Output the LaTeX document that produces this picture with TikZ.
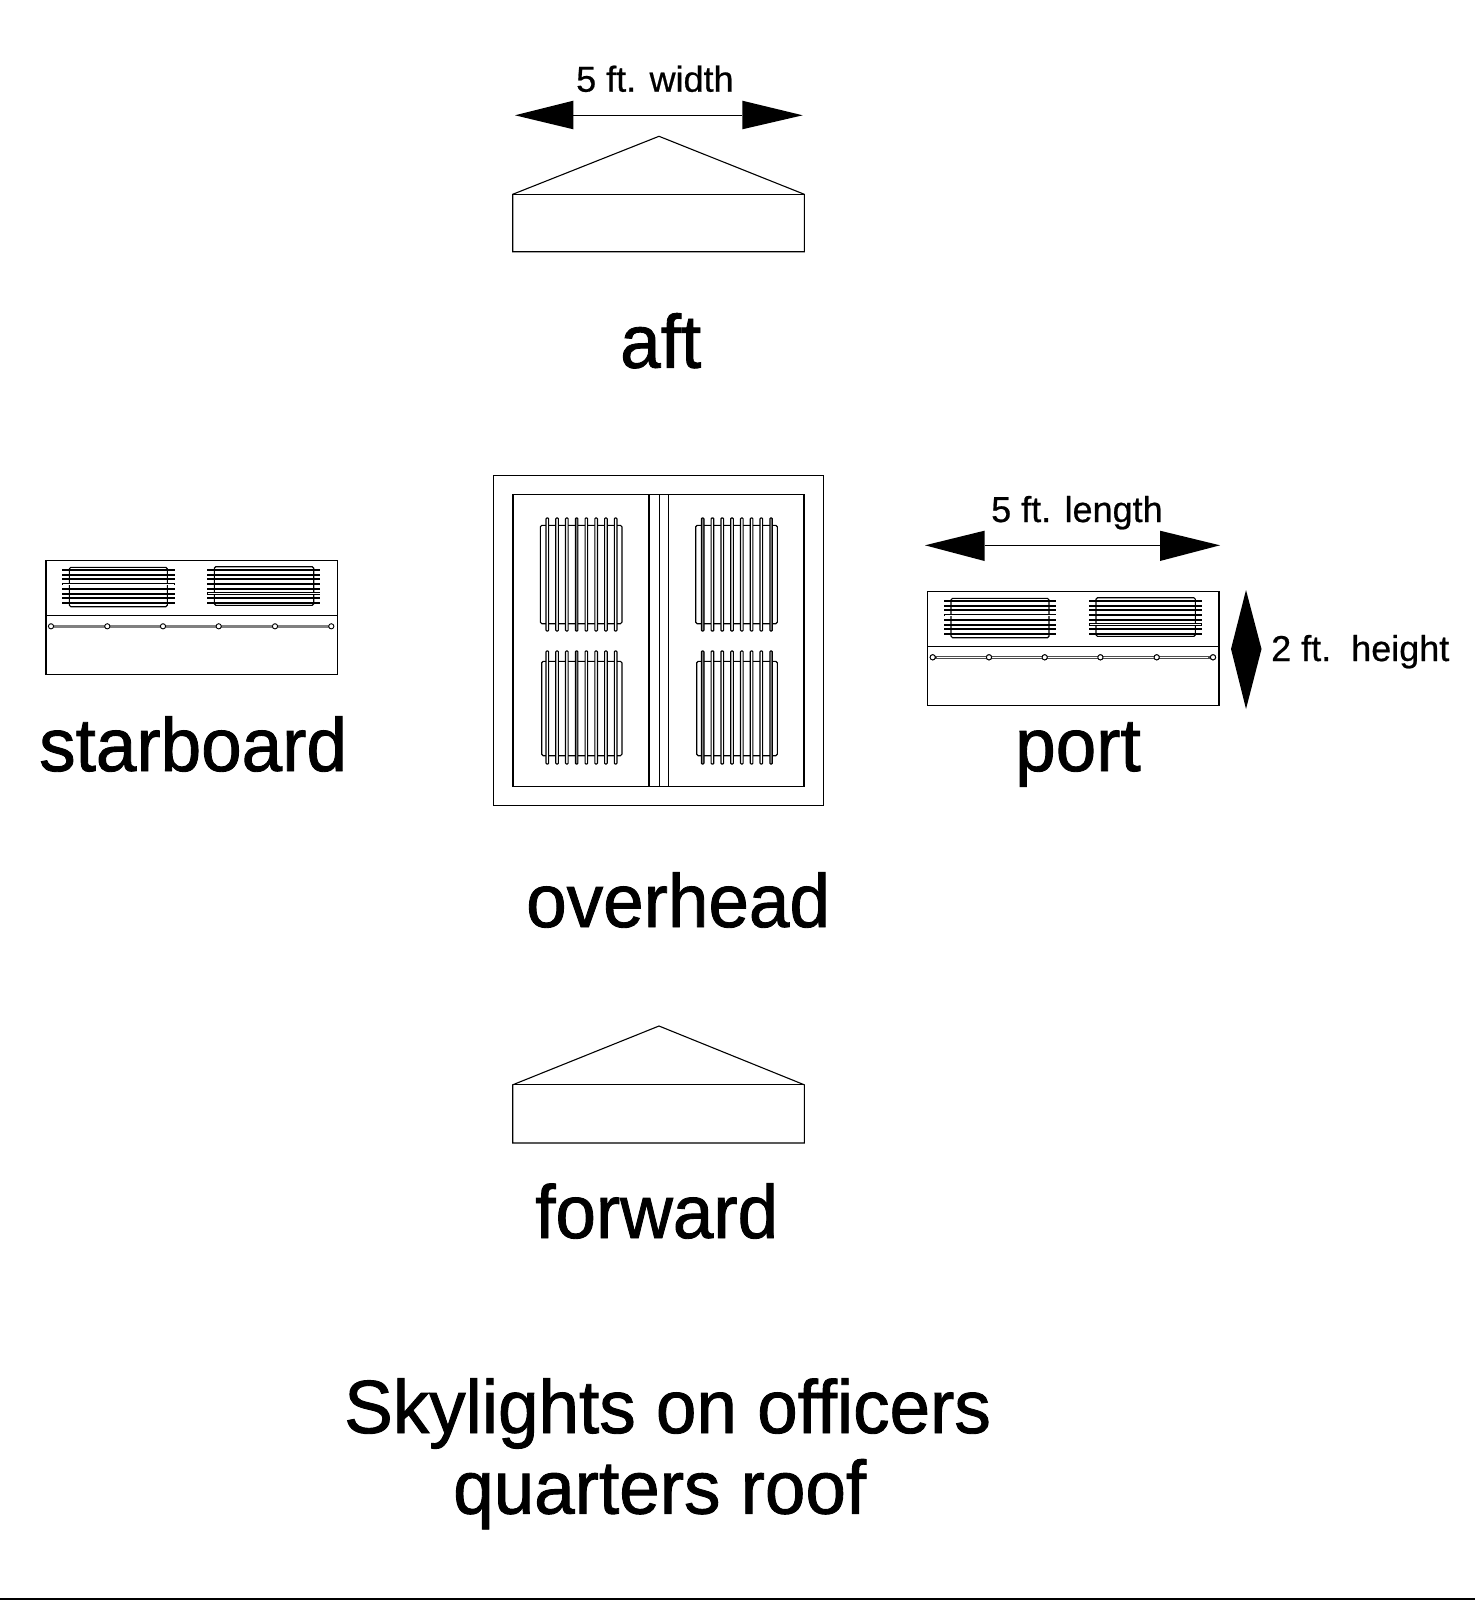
\documentclass[tikz,border=0pt]{standalone}
\usepackage{fontspec}
\setmainfont{Liberation Sans}
\newfontfamily\bigface[FakeBold=1.2]{Liberation Sans}
\newfontfamily\smallface[FakeBold=0.6]{Liberation Sans}
\newcommand{\bigtxt}{\bigface\fontsize{72.5}{72.5}\selectfont}
\newcommand{\smalltxt}{\smallface\fontsize{36}{36}\selectfont}
% one top-view window: x-left, x-right, y-top, y-bottom, first bar x, bar top y, bar bottom y
\newcommand{\skywin}[8]{%
  \draw[ln,rounded corners=1.5pt] (#1,#3) rectangle (#2,#4);
  \foreach \n/\bc in {#8}{%
    \pgfmathsetmacro{\bx}{#5+9.77*\n}
    \draw[ln,fill=\bc,rounded corners=0.8pt] (\bx-1.3,#6) rectangle (\bx+1.3,#7);
  }}
% one side-view window: rect x1 x2 y1 y2, slat x1 x2, first slat y, hollow slat index
\newcommand{\sidewin}[8]{%
  \draw[ln,rounded corners=1.5pt] (#1,#3) rectangle (#2,#4);
  \foreach \n in {0,...,7}{%
    \pgfmathsetmacro{\sy}{#7+4.7*\n}
    \draw[line width=2pt] (#5,\sy) -- (#6,\sy);
  }
  \pgfmathsetmacro{\sy}{#7+4.7*#8}
  \draw[line width=2.4pt] (#5,\sy) -- (#6,\sy);
  \draw[line width=0.8pt,white] (#5+0.8,\sy) -- (#6-0.8,\sy);
}
% side view frame
\newcommand{\sideview}[3]{%
  \begin{scope}[shift={(#1,#2)}]
    \draw[ln] (46,560.3) rectangle (337.3,674.3);
    \draw[ln] (46,615.3) -- (337.3,615.3);
    \draw[line width=2.6pt,#3] (51,626.3) -- (331.3,626.3);
    \foreach \cx in {51,107.3,163,218.7,275,331.3}
      \draw[line width=0.9pt,fill=white] (\cx,626.3) circle (2.6);
    \sidewin{69.3}{167.3}{567.3}{606.7}{62.3}{174.7}{570}{3}
    \sidewin{214.3}{313.7}{566.7}{605.3}{207.3}{320.3}{570}{5}
  \end{scope}}
\tikzset{
  ln/.style={line width=1.1pt,black,line join=miter},
  big/.style={anchor=base west,inner sep=0pt,font=\bigtxt,yscale=1.04,xscale=1.005},
  small/.style={anchor=base west,inner sep=0pt,font=\smalltxt},
  dim/.style={line width=1.1pt},
  tip/.style={fill=black,draw=none}
}
\begin{document}
\begin{tikzpicture}[x=1pt,y=-1pt]
\useasboundingbox (0,0) rectangle (1475,1600);
\fill[white] (0,0) rectangle (1475,1600);

% aft
\draw[ln] (512.7,194.3) -- (659,136.3) -- (804.3,194.3) -- (804.3,251.7) -- (512.7,251.7) -- cycle;
\draw[ln] (512.7,194.3) -- (804.3,194.3);
\coordinate (awl) at (573.3,115.3);
\coordinate (awr) at (742.3,115.3);
\draw[dim] (awl) -- (awr);
\fill[tip] (515,115.3) -- (573.3,100.7) -- (573.3,129.3) -- cycle;
\fill[tip] (802.7,115.3) -- (742.3,100.7) -- (742.3,129.3) -- cycle;
\node[small] (widthlabel) at (576,91.7) {5 ft. width};
\node[big] (aftlabel) at (620,367.7) {aft};

% overhead
\draw[ln] (493.7,475.3) rectangle (823.7,805.3);
\draw[ln] (513,494.7) rectangle (804,786.5);
\draw[ln] (649,494.7) -- (649,786.5);
\draw[ln] (659.7,494.7) -- (659.7,786.5);
\draw[ln] (668.3,494.7) -- (668.3,786.5);
\skywin{540.3}{622}{525.3}{623.7}{547.3}{518}{631}{0/white,1/white,2/white,3/gray,4/white,5/white,6/white,7/white}
\skywin{695.7}{777.3}{525.3}{623.7}{702.7}{518}{631}{0/gray,1/white,2/white,3/white,4/white,5/white,6/white,7/gray}
\skywin{541.7}{622}{661.3}{755.7}{547.3}{651}{764}{0/white,1/white,2/white,3/gray,4/white,5/white,6/white,7/white}
\skywin{696.7}{777.3}{661.3}{755.7}{702.7}{651}{764}{0/gray,1/white,2/white,3/white,4/white,5/white,6/white,7/gray}
\node[big] (overheadlabel) at (526,927) {overhead};

% starboard
\sideview{0}{0}{gray}
\node[big] (starboardlabel) at (39,771) {starboard};

% port
\sideview{881.7}{31}{black!70}
\draw[line width=0.8pt,white] (937,657.3) -- (1208,657.3);
\foreach \cx in {51,107.3,163,218.7,275,331.3}
  \draw[line width=0.9pt,fill=white] (881.7+\cx,657.3) circle (2.6);
\coordinate (pll) at (984.5,545.3);
\coordinate (plr) at (1160,545.3);
\draw[dim] (pll) -- (plr);
\fill[tip] (925,545.3) -- (984.5,530.7) -- (984.5,561) -- cycle;
\fill[tip] (1220,545.3) -- (1160,530.7) -- (1160,561) -- cycle;
\node[small] (lengthlabel) at (991,522) {5 ft. length};
\fill[tip] (1246,590) -- (1261.5,649) -- (1246,709) -- (1231,649) -- cycle;
\node[small] (heightlabel) at (1271,661) {2 ft.\ \ height};
\node[big] (portlabel) at (1015,771) {port};

% forward
\draw[ln] (512.7,1084.8) -- (659,1026) -- (804.3,1084.8) -- (804.3,1143) -- (512.7,1143) -- cycle;
\draw[ln] (512.7,1084.8) -- (804.3,1084.8);
\node[big] (forwardlabel) at (535,1238) {forward};

% title
\node[big] (titleone) at (344,1433) {Skylights on officers};
\node[big] (titletwo) at (453,1513.6) {quarters roof};

% bottom edge
\coordinate (bl) at (0,1599.2);
\coordinate (br) at (1475,1599.2);
\draw[line width=1.6pt] (bl) -- (br);
\end{tikzpicture}
\end{document}
